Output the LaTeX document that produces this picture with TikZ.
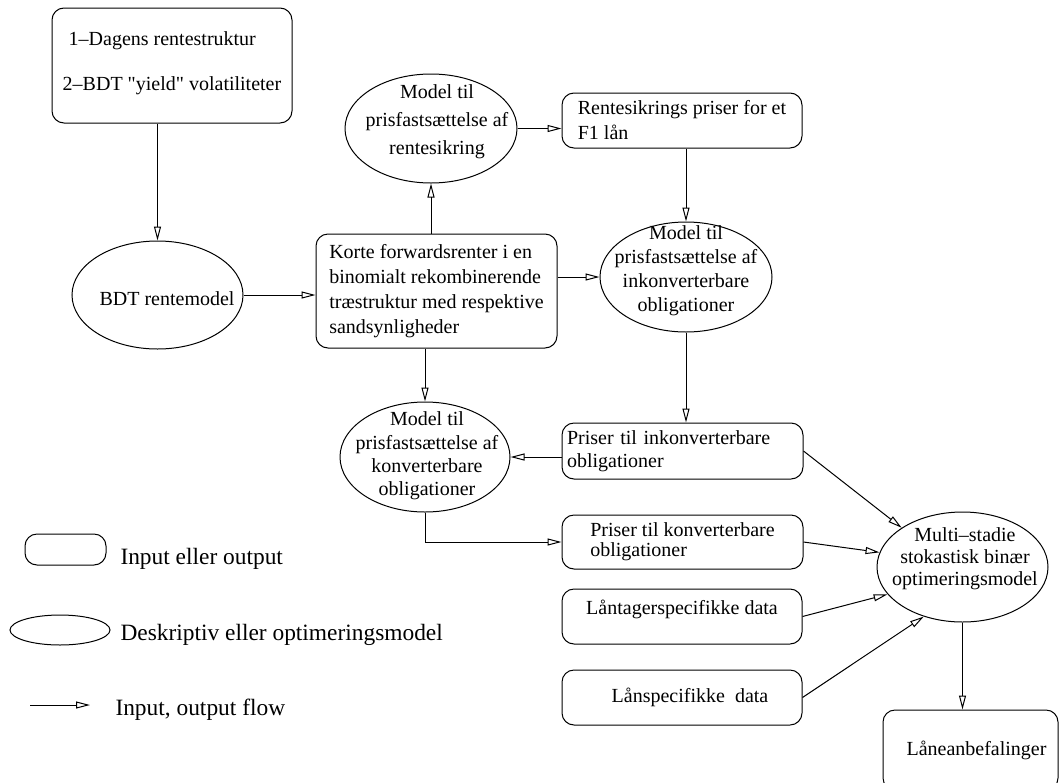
\documentclass[tikz,border=0pt]{standalone}
\usepackage{fontspec}
\setmainfont{Liberation Serif}
\newfontfamily\plainserif{Liberation Serif}
\usetikzlibrary{shapes.geometric,arrows.meta}

\tikzset{
  iobox/.style={draw, rectangle, rounded corners=6pt, align=left, inner ysep=2pt},
  model/.style={draw, ellipse, inner sep=0pt},
  mtext/.style={align=center, inner sep=0pt},
  flow/.style={-{Triangle[open,length=7pt,width=3.5pt]}},
  keytext/.style={anchor=base west, inner sep=0pt, font=\fontsize{11.7}{14}\selectfont}
}

\begin{document}
\begin{tikzpicture}[x=0.5pt, y=-0.5pt, line width=0.5pt, font=\fontsize{10}{12}\selectfont]
\useasboundingbox (0,0) rectangle (1060,782);

% inputs and rate model
\node[iobox, minimum width=120pt, minimum height=57.5pt, text depth=4pt] (inp) at (172,65.5)
  {\hspace*{3pt}1--Dagens rentestruktur\\[10.5pt]2--BDT {\plainserif"yield"} volatiliteter};
\node[model, minimum width=85.5pt, minimum height=54pt] (bdt) at (157.5,295) {};
\node[mtext] (bdt-t) at (167,299) {BDT rentemodel};
\node[iobox, minimum width=120.5pt, minimum height=57pt, font=\fontsize{10}{12.5}\selectfont] (korte) at (436.5,291)
  {Korte forwardsrenter i en\\binomialt rekombinerende\\træstruktur med respektive\\sandsynligheder};

% pricing models
\node[model, minimum width=86pt, minimum height=54.5pt] (rsmod) at (431,128.5) {};
\node[mtext, font=\fontsize{10}{14}\selectfont] (rsmod-t) at (437,122) {Model til\\prisfastsættelse af\\rentesikring};
\node[iobox, minimum width=120pt, minimum height=27.5pt, font=\fontsize{10}{12.5}\selectfont] (rsbox) at (682,120.5)
  {Rentesikrings priser for et\\F1 lån};
\node[model, minimum width=86pt, minimum height=55pt] (inkmod) at (686,277) {};
\node[mtext] (inkmod-t) at (686,271) {Model til\\prisfastsættelse af\\inkonverterbare\\obligationer};
\node[iobox, text width=115.5pt, inner xsep=2.5pt, minimum height=28pt, font=\fontsize{10}{11.5}\selectfont] (inkbox) at (682.5,451)
  {Priser til inkonverterbare\\obligationer};
\node[model, minimum width=85pt, minimum height=55pt] (konmod) at (425,457) {};
\node[mtext, font=\fontsize{10}{11.7}\selectfont] (konmod-t) at (427,456) {Model til\\prisfastsættelse af\\konverterbare\\obligationer};
\node[iobox, minimum width=120.5pt, minimum height=27pt, font=\fontsize{10}{10}\selectfont] (konbox) at (682.5,542)
  {Priser til konverterbare\\obligationer};

% optimisation
\node[iobox, minimum width=120pt, minimum height=27.5pt, text depth=9pt] (ltbox) at (682,616.5) {Låntagerspecifikke data};
\node[iobox, minimum width=120pt, minimum height=27.5pt] (lspbox) at (682,697.5) {\hspace*{8pt}Lånspecifikke\ \ data};
\node[model, minimum width=85.5pt, minimum height=55pt] (optmod) at (962.5,567) {};
\node[mtext, font=\fontsize{10}{11}\selectfont] (optmod-t) at (965,559) {Multi--stadie\\stokastisk binær\\optimeringsmodel};
\node[iobox, minimum width=87.5pt, minimum height=40pt] (anbbox) at (970.5,750) {\hspace*{6pt}Låneanbefalinger};

% legend
\node[iobox, minimum width=40.5pt, minimum height=15.5pt] (key-io) at (65.5,549.5) {};
\node[keytext] (key-io-t) at (120,564) {Input eller output};
\node[model, minimum width=50pt, minimum height=15pt] (key-mod) at (60,630) {};
\node[keytext] (key-mod-t) at (120,640) {Deskriptiv eller optimeringsmodel};
\coordinate (key-a) at (30,705);
\coordinate (key-b) at (90,705);
\node[keytext] (key-flow-t) at (115,715) {Input, output flow};

% flows
\draw[flow] (bdt.north |- inp.south) -- (bdt.north);
\draw[flow] (bdt.east) -- (bdt.east -| korte.west);
\draw[flow] (rsmod.south |- korte.north) -- (rsmod.south);
\draw[flow] (rsmod.east) -- (rsmod.east -| rsbox.west);
\draw[flow] (inkmod.north |- rsbox.south) -- (inkmod.north);
\draw[flow] (korte.east |- inkmod.west) -- (inkmod.west);
\draw[flow] (inkmod.south) -- (inkmod.south |- inkbox.north);
\draw[flow] (konmod.north |- korte.south) -- (konmod.north);
\draw[flow] (inkbox.west |- konmod.east) -- (konmod.east);
\draw[flow] (konmod.south) |- (konbox.west);
\draw[flow] (inkbox.east) -- (optmod.north west);
\draw[flow] (konbox.east) -- (optmod.170);
\draw[flow] (ltbox.east) -- (optmod.200);
\draw[flow] (lspbox.east) -- (optmod.232);
\draw[flow] (optmod.south) -- (optmod.south |- anbbox.north);
\draw[flow] (key-a) -- (key-b);
\end{tikzpicture}
\end{document}
